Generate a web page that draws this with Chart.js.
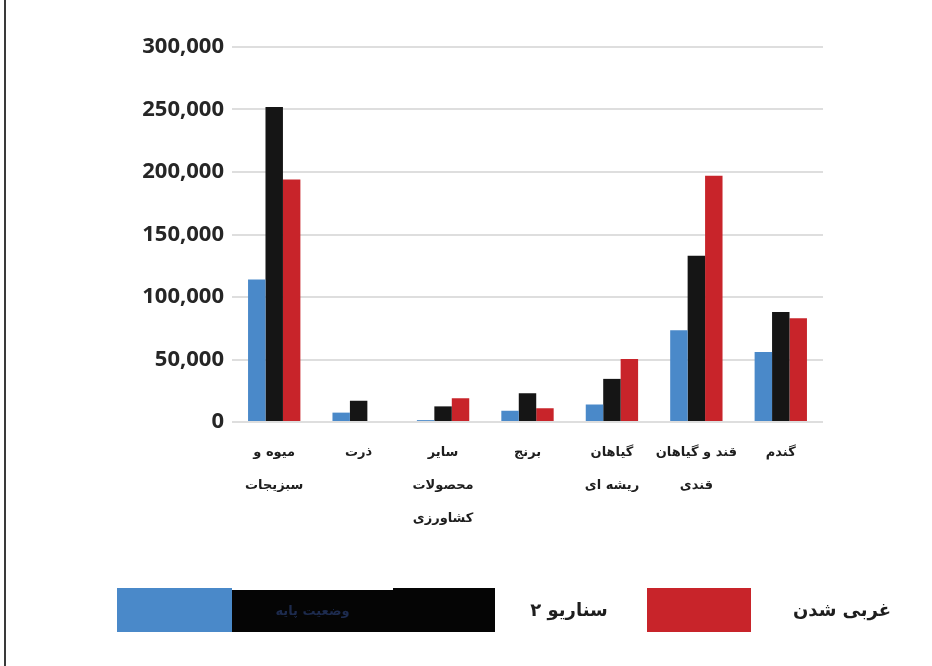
<!DOCTYPE html>
<html>
<head>
<meta charset="utf-8">
<script src="https://cdn.jsdelivr.net/npm/chart.js@4"></script>
<style>
  html, body { margin: 0; padding: 0; background: #fff; }
  #wrap { position: relative; width: 932px; height: 666px; overflow: hidden; }
  #chart { position: absolute; left: 0; top: 0; }
  .frame { position: absolute; left: 4px; top: 0; width: 2px; height: 666px; background: #3a3a3a; }
  .lg { position: absolute; top: 588px; height: 44px; }
  .lgtext { position: absolute; top: 588px; height: 44px; line-height: 44px;
    font-family: "DejaVu Sans", sans-serif; font-weight: bold; font-size: 18px; color: #1e1e1e; direction: rtl; }
</style>
</head>
<body>
<div id="wrap">
  <canvas id="chart" width="932" height="666"></canvas>
  <div class="frame"></div>
  <div class="lg" style="left:117px;width:115px;background:#4a89c9"></div>
  <div class="lg" style="left:232px;width:161px;top:590px;height:42px;background:#050505;
       color:#1d2b4e;font-family:'DejaVu Sans',sans-serif;font-weight:bold;font-size:13px;
       line-height:42px;text-align:center;direction:rtl" id="lg0"></div>
  <div class="lg" style="left:393px;width:102px;background:#050505"></div>
  <div class="lgtext" style="left:522px;width:94px;text-align:center" id="lg1"></div>
  <div class="lg" style="left:647px;width:104px;background:#c8242a"></div>
  <div class="lgtext" style="left:784px;width:116px;text-align:center" id="lg2"></div>
</div>
<script>
const categories = [
  ["میوه و", "سبزیجات"],
  ["ذرت"],
  ["سایر", "محصولات", "کشاورزی"],
  ["برنج"],
  ["گیاهان", "ریشه ای"],
  ["قند و گیاهان", "قندی"],
  ["گندم"],
];
const seriesNames = ["وضعیت پایه", "سناریو ۲", "غربی شدن"];
const baseline = [114000, 7500, 1500, 9000, 14000, 73500, 56000];
const scenario2 = [252000, 17000, 12500, 23000, 34500, 133000, 88000];
const westernized = [194000, 0, 19000, 11000, 50500, 197000, 83000];
const yTicks = [0, 50000, 100000, 150000, 200000, 250000, 300000];

document.getElementById("lg0").textContent = seriesNames[0];
document.getElementById("lg1").textContent = seriesNames[1];
document.getElementById("lg2").textContent = seriesNames[2];

new Chart(document.getElementById("chart"), {
  type: "bar",
  data: {
    labels: categories,
    datasets: [
      { label: seriesNames[0], data: baseline, backgroundColor: "#4a89c9" },
      { label: seriesNames[1], data: scenario2, backgroundColor: "#151515" },
      { label: seriesNames[2], data: westernized, backgroundColor: "#c8242a" },
    ],
  },
  options: {
    responsive: false,
    animation: false,
    layout: { padding: { left: 0, right: 109, top: 47, bottom: 0 } },
    plugins: { legend: { display: false }, tooltip: { enabled: false } },
    datasets: { bar: { categoryPercentage: 0.62, barPercentage: 1.0 } },
    scales: {
      x: {
        grid: { display: false },
        border: { display: false },
        ticks: {
          color: "#1e1e1e",
          padding: 6,
          maxRotation: 0,
          autoSkip: false,
          font: { family: "DejaVu Sans", weight: "bold", size: 13, lineHeight: 2.55 },
        },
        afterFit: (s) => { s.height = 244; },
      },
      y: {
        min: 0,
        max: 300000,
        afterBuildTicks: (s) => { s.ticks = yTicks.map((v) => ({ value: v })); },
        grid: { color: "#dedede", lineWidth: 2, drawTicks: false },
        border: { display: false },
        ticks: {
          color: "#262626",
          padding: 8,
          font: { family: "Open Sans", weight: "bold", size: 22 },
          callback: (v) => v.toLocaleString("en-US"),
        },
        afterFit: (s) => { s.width = 232; },
      },
    },
  },
});
</script>
</body>
</html>
